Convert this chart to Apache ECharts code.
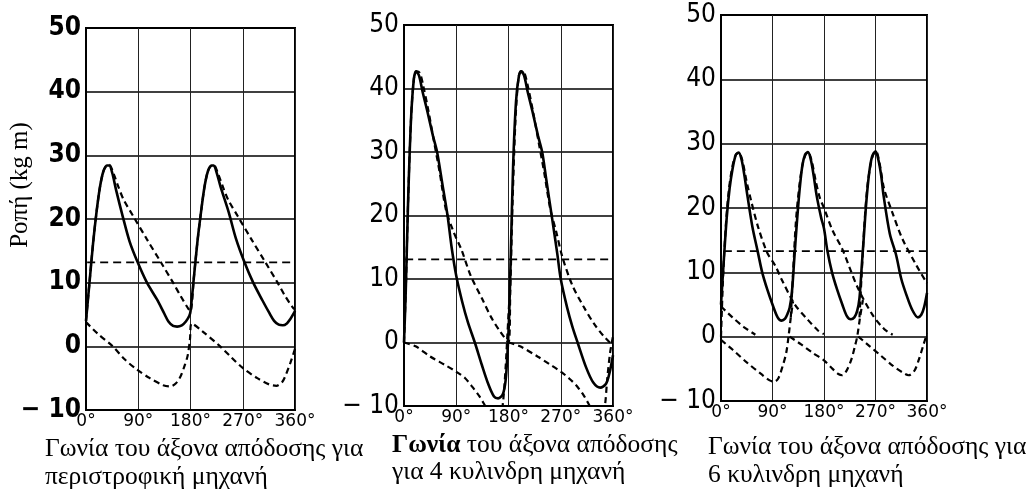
<!DOCTYPE html>
<html>
<head>
<meta charset="utf-8">
<script src="https://cdn.jsdelivr.net/npm/echarts@6/dist/echarts.min.js"></script>
<style>
html,body{margin:0;padding:0;background:#fff;}
#chart{width:1035px;height:496px;}
</style>
</head>
<body>
<div id="chart"></div>
<script>
// ---------- tick labels ----------
const angleTicks = [0, 90, 180, 270, 360];
const torqueTicks = [-10, 0, 10, 20, 30, 40, 50];

// ---------- Panel 1 : rotary engine ----------
const p1Total = [[0,4],[6,10],[12,16],[18,21],[24,25],[30,27.5],[36,28.4],[40,28.4],[45,27.3],[52,24.5],[63,20.5],[75,16.5],[89,13.2],[105,10],[122,7.4],[134,5.3],[142,3.9],[150,3.2],[157,3.1],[165,3.3],[172,3.9],[178,4.8],[180,5.5],
  [186,11],[192,16.5],[198,21],[204,25],[210,27.5],[216,28.4],[220,28.4],[225,27.3],[232,25],[246,21],[258,17],[273,13.2],[288,10],[304,7.2],[316,5.2],[324,4],[332,3.4],[339,3.3],[346,3.6],[352,4.3],[358,5.2],[360,5.6]];
const p1Gas = [[0,4],[6,10],[12,16],[18,21],[24,25],[30,27.5],[36,28.4],[40,28.5],[48,27],[56,25],[65,23],[81,20.5],[105,16.8],[129,13.2],[150,10],[163,7.9],[177,5.8],[180,5.5],
  [186,11],[192,16.5],[198,21],[204,25],[210,27.5],[216,28.4],[220,28.5],[228,27],[236,25],[245,23],[261,20.5],[285,16.8],[309,13.2],[330,10],[343,7.9],[357,6],[360,5.8]];
const p1Inertia = [[0,3.8],[20,2],[46,0],[66,-2],[87,-3.6],[110,-5],[133,-6.1],[145,-6.3],[155,-5.8],[163,-4.7],[170,-3],[175,-1.5],[179,1],[182,3.6],
  [200,2.4],[231,0],[250,-1.7],[270,-3.4],[295,-5],[316,-6],[328,-6.2],[338,-5.6],[345,-4.3],[352,-2.6],[360,-0.4]];
const p1Mean = 13.2;

// ---------- Panel 2 : 4-cylinder engine ----------
const p2Total = [[0,0],[3,8],[7,22],[12,35],[17,41.5],[21,42.7],[26,42],[32,39.5],[40,36.5],[50,32.5],[57,30],[66,25],[75,20],[82,15],[90,10.5],[100,6.5],[110,3.2],[122,0],[134,-3.5],[145,-6.5],[155,-8.5],[162,-8.8],[170,-8.2],[175,-6],[178,-2],[181,4],[184,14],[188,28],[193,38],[198,42],[202,42.7],
  [207,42],[213,39.5],[221,36.5],[231,32.5],[238,30],[245,25.7],[256,19],[264,14],[270,10],[281,5.5],[290,2.5],[299,0],[314,-4],[326,-6.3],[338,-7.1],[348,-6.5],[354,-4.8],[358,-3],[360,-2]];
const p2Gas = [[0,0],[3,8],[7,22],[12,35],[17,41.5],[21,42.7],[27,42.5],[33,40.5],[42,36.5],[52,31.5],[62,26.5],[72,21],[85,17.5],[99,14.6],[115,10.5],[135,6.8],[150,4],[165,1.8],[180,0],
  [183,8],[187,22],[192,35],[197,41.5],[201,42.7],[207,42.5],[213,40.5],[222,36.5],[232,31.5],[242,26.5],[252,21],[262,17.5],[273,13.4],[290,9],[309,5.7],[327,3],[344,1],[360,-0.5]];
const p2Inertia = [[0,0],[20,-0.6],[45,-2.2],[70,-3.5],[90,-4.6],[105,-5.6],[117,-6.9],[130,-8.5],[140,-10],[150,-11.5],[160,-12.5],[166,-12],[171,-9],[175,-4],[178,1],[181,6],[181,null],
  [180,0],[200,-0.6],[230,-2.2],[252,-3.5],[270,-4.6],[285,-5.7],[298,-6.9],[310,-8.4],[320,-10],[330,-11.5],[340,-12],[346,-10],[350,-5.8],[355,-1.6],[360,1]];
const p2Mean = 13.1;

// ---------- Panel 3 : 6-cylinder engine ----------
const p3Total = [[0,5],[5,12],[10,18.5],[15,23],[20,26],[26,28.3],[31,28.6],[36,27.5],[41,25],[46,22],[55,17],[64,13.3],[72,10],[81,7.3],[90,5],[99,3],[106,2.5],[112,2.8],[116,3.5],[120,4.5],
  [124,7],[128,12],[132,17],[137,22.5],[142,26.5],[147,28.3],[152,28.7],[157,27.5],[162,25],[167,22],[175,18.5],[180,16.8],[186,13.3],[194,10],[203,7.3],[212,5],[220,3.2],[227,2.7],[233,3],[238,4],[242,6],
  [246,11],[250,16],[254,21],[259,25.5],[264,28],[270,28.8],[275,27.5],[280,25],[284,22],[295,16],[306,12.7],[315,9],[324,6.5],[334,4.2],[344,3],[350,3.4],[355,4.6],[360,6.8]];
const p3Gas = [[0,4.7],[20,3],[40,1.5],[60,0.3],[60,null],
  [0,0],[4,10],[9,18],[14,23],[20,26.5],[26,28.3],[31,28.6],[37,27.5],[45,24],[53,21],[65,17],[81,13],[95,11],[106,8.9],[129,5],[150,2.8],[169,1],[180,0.4],[180,null],
  [122,3],[126,10],[131,18],[137,23.5],[143,27],[148,28.3],[152,28.7],[158,27.5],[166,24],[173,21.5],[180,20],[195,16.5],[212,13.6],[238,7.8],[264,3.5],[285,1.2],[300,0.3],[300,null],
  [242,3],[246,10],[251,18],[256,23.5],[262,27],[267,28.5],[271,28.8],[277,27],[285,23],[299,19.4],[317,15.2],[342,11],[360,8.3]];
const p3Inertia = [[0,-0.5],[20,-2],[45,-4],[70,-5.8],[85,-6.8],[93,-7],[100,-6.5],[108,-4.5],[114,-2.5],[118,0],[122,3],[126,5.5],[126,null],
  [120,0],[140,-1.2],[160,-2.5],[180,-3.7],[195,-5],[205,-5.8],[212,-6],[220,-5.2],[228,-3.5],[234,-1.5],[238,0],[243,3],[248,5.7],[248,null],
  [240,0],[260,-1.5],[280,-3],[300,-4.5],[318,-5.6],[328,-6],[338,-5.3],[346,-3.5],[353,-1.5],[360,0.5]];
const p3Mean = 13.3;

// ---------- texts ----------
const yTitle = 'Ροπή (kg m)';
const captions = [
  ['Γωνία του άξονα απόδοσης για', 'περιστροφική μηχανή'],
  ['{b|Γωνία} του άξονα απόδοσης', 'για 4 κυλινδρη μηχανή'],
  ['Γωνία του άξονα απόδοσης για', '6 κυλινδρη μηχανή']
];

// ---------- layout ----------
const grids = [
  {left: 86, top: 28, width: 209, height: 382},
  {left: 404, top: 25, width: 209, height: 381},
  {left: 721, top: 15, width: 206, height: 386}
];
// x, y line1, y line2, font size
const captionPos = [[45, 449, 477, 25.5], [392, 445, 472, 25.5], [708, 447, 475, 25.5]];

const panels = [
  {total: p1Total, gas: p1Gas, inertia: p1Inertia, mean: p1Mean},
  {total: p2Total, gas: p2Gas, inertia: p2Inertia, mean: p2Mean},
  {total: p3Total, gas: p3Gas, inertia: p3Inertia, mean: p3Mean}
];

const numFont = '"Liberation Sans Narrow","DejaVu Sans Condensed","Liberation Sans",sans-serif';
const tickFont = '"DejaVu Sans",sans-serif';
const serif = '"Liberation Serif","DejaVu Serif",serif';

const option = {
  animation: false,
  backgroundColor: '#fff',
  grid: grids.map(g => Object.assign({show: true, borderColor: '#000', borderWidth: 2, backgroundColor: 'transparent'}, g)),
  xAxis: grids.map((g, i) => ({
    type: 'value', gridIndex: i,
    min: angleTicks[0], max: angleTicks[angleTicks.length - 1], interval: angleTicks[1] - angleTicks[0],
    axisLine: {show: true, onZero: false, lineStyle: {color: '#000', width: 2}},
    axisTick: {show: false},
    splitLine: {show: true, lineStyle: {color: '#222', width: 1}},
    axisLabel: {color: '#000', fontSize: 17, fontFamily: tickFont, margin: 3, formatter: v => v + '°'}
  })),
  yAxis: grids.map((g, i) => ({
    type: 'value', gridIndex: i,
    min: torqueTicks[0], max: torqueTicks[torqueTicks.length - 1], interval: torqueTicks[1] - torqueTicks[0],
    axisLine: {show: true, onZero: false, lineStyle: {color: '#000', width: 2}},
    axisTick: {show: false},
    splitLine: {show: true, lineStyle: {color: '#000', width: 1.5}},
    axisLabel: {color: '#000', fontSize: 26, fontFamily: numFont, margin: 5,
      fontWeight: i === 0 ? 'bold' : 'normal',
      formatter: v => v < 0 ? '− ' + Math.abs(v) : String(v)}
  })),
  series: [],
  graphic: []
};

panels.forEach((p, i) => {
  option.series.push({
    type: 'line', xAxisIndex: i, yAxisIndex: i, data: p.total, symbol: 'none', smooth: 0.3,
    lineStyle: {color: '#000', width: 2.6, type: 'solid'}, z: 5
  });
  option.series.push({
    type: 'line', xAxisIndex: i, yAxisIndex: i, data: p.gas, symbol: 'none', smooth: 0.3, connectNulls: false,
    lineStyle: {color: '#000', width: 2.2, type: [6, 4]}, z: 4
  });
  option.series.push({
    type: 'line', xAxisIndex: i, yAxisIndex: i, data: p.inertia, symbol: 'none', smooth: 0.3, connectNulls: false,
    lineStyle: {color: '#000', width: 2.2, type: [6, 4]}, z: 4
  });
  option.series.push({
    type: 'line', xAxisIndex: i, yAxisIndex: i,
    data: [[angleTicks[0] + (i === 2 ? 5 : 2), p.mean], [angleTicks[angleTicks.length - 1], p.mean]],
    symbol: 'none', lineStyle: {color: '#000', width: 1.8, type: [8, 5]}, z: 3
  });
});

option.graphic.push({
  type: 'text', x: 20, y: 185, rotation: Math.PI / 2,
  style: {text: yTitle, fill: '#000', font: '25px ' + serif, align: 'center', verticalAlign: 'middle'}
});
captions.forEach((c, i) => {
  const [x, y1, y2, fs] = captionPos[i];
  option.graphic.push({
    type: 'text', x: x, y: y1,
    style: {text: c[0], fill: '#000', font: fs + 'px ' + serif, verticalAlign: 'middle',
      rich: {b: {fontWeight: 'bold', fontSize: fs, fontFamily: serif}}}
  });
  option.graphic.push({
    type: 'text', x: x, y: y2,
    style: {text: c[1], fill: '#000', font: fs + 'px ' + serif, verticalAlign: 'middle'}
  });
});

const chart = echarts.init(document.getElementById('chart'), null, {renderer: 'canvas'});
chart.setOption(option);
</script>
</body>
</html>
